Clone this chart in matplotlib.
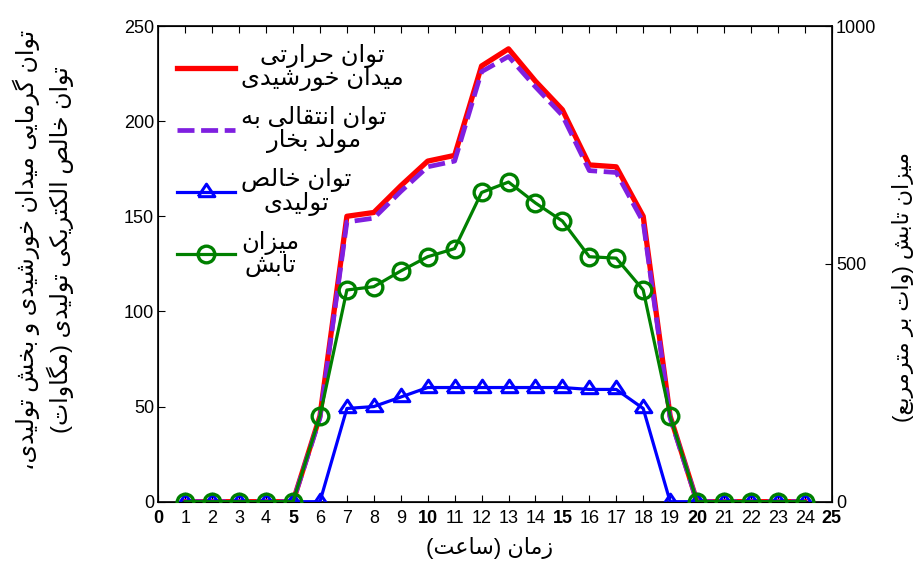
import matplotlib
matplotlib.use("Agg")
import matplotlib.pyplot as plt

plt.rcParams['font.family'] = ['Liberation Sans', 'DejaVu Sans']

# hourly data
hours = list(range(1, 25))
thermal = [0, 0, 0, 0, 0, 45, 150, 152, 166, 179, 182, 229, 238, 221, 206, 177, 176, 150, 45, 0, 0, 0, 0, 0]
steam = [0, 0, 0, 0, 0, 44, 147, 149, 163, 176, 179, 226, 234, 218, 203, 174, 173, 147, 44, 0, 0, 0, 0, 0]
net = [0, 0, 0, 0, 0, 0, 49, 50, 55, 60, 60, 60, 60, 60, 60, 59, 59, 49, 0, 0, 0, 0, 0, 0]
radiation = [0, 0, 0, 0, 0, 180, 445, 452, 485, 515, 532, 650, 672, 628, 590, 515, 512, 445, 180, 0, 0, 0, 0, 0]

labels = ["توان حرارتی\nمیدان خورشیدی", "توان انتقالی به\nمولد بخار",
          "توان خالص\nتولیدی", "میزان\nتابش"]
ylabel_left = "توان گرمایی میدان خورشیدی و بخش تولیدی،\nتوان خالص الکتریکی تولیدی (مگاوات)"
ylabel_right = "میزان تابش (وات بر مترمربع)"
xlabel = "زمان (ساعت)"

# matplotlib has no arabic shaping, so pick presentation forms by hand
# (isolated, final, initial, medial)
FORMS = {
    'ا': (0xFE8D, 0xFE8E, None, None), 'ب': (0xFE8F, 0xFE90, 0xFE91, 0xFE92),
    'ت': (0xFE95, 0xFE96, 0xFE97, 0xFE98), 'ح': (0xFEA1, 0xFEA2, 0xFEA3, 0xFEA4),
    'خ': (0xFEA5, 0xFEA6, 0xFEA7, 0xFEA8), 'د': (0xFEA9, 0xFEAA, None, None),
    'ر': (0xFEAD, 0xFEAE, None, None), 'ز': (0xFEAF, 0xFEB0, None, None),
    'س': (0xFEB1, 0xFEB2, 0xFEB3, 0xFEB4), 'ش': (0xFEB5, 0xFEB6, 0xFEB7, 0xFEB8),
    'ص': (0xFEB9, 0xFEBA, 0xFEBB, 0xFEBC), 'ع': (0xFEC9, 0xFECA, 0xFECB, 0xFECC),
    'ق': (0xFED5, 0xFED6, 0xFED7, 0xFED8), 'ل': (0xFEDD, 0xFEDE, 0xFEDF, 0xFEE0),
    'م': (0xFEE1, 0xFEE2, 0xFEE3, 0xFEE4), 'ن': (0xFEE5, 0xFEE6, 0xFEE7, 0xFEE8),
    'ه': (0xFEE9, 0xFEEA, 0xFEEB, 0xFEEC), 'و': (0xFEED, 0xFEEE, None, None),
    'ی': (0xFBFC, 0xFBFD, 0xFBFE, 0xFBFF), 'ک': (0xFB8E, 0xFB8F, 0xFB90, 0xFB91),
    'گ': (0xFB92, 0xFB93, 0xFB94, 0xFB95),
}


def shape_line(s):
    out = []
    for i, c in enumerate(s):
        if c not in FORMS:
            out.append(c)
            continue
        f = FORMS[c]
        prev = s[i - 1] if i > 0 else ''
        nxt = s[i + 1] if i < len(s) - 1 else ''
        jp = prev in FORMS and FORMS[prev][2] is not None
        jn = f[2] is not None and nxt in FORMS
        if jp and jn:
            g = f[3]
        elif jp:
            g = f[1]
        elif jn:
            g = f[2]
        else:
            g = f[0]
        out.append(chr(g))
    vis = ''.join(out)[::-1]
    return vis.translate(str.maketrans('()', ')('))


def fa(s):
    return '\n'.join(shape_line(l) for l in s.split('\n'))


fig = plt.figure(figsize=(9.21, 5.63), dpi=100)
ax = fig.add_axes([0.1719, 0.1089, 0.7312, 0.8449])

l1, = ax.plot(hours, thermal, color='#ff0000', lw=3.8, zorder=2)
l2, = ax.plot(hours, steam, color='#7f1fe0', lw=3.4, ls=(0, (3.6, 1.4)), zorder=3)
tri = [(-1, -0.5), (1, -0.5), (0, 1), (-1, -0.5)]
l3, = ax.plot(hours, net, color='#0000ff', lw=2.3, marker=tri, ms=12,
              mfc='none', mew=2.2, zorder=4)

ax.set_xlim(0, 25)
ax.set_ylim(0, 250)
ax.set_xticks(range(26))
ax.set_xticklabels([str(i) for i in range(26)])
ax.set_yticks(range(0, 251, 50))
ax.tick_params(direction='in', top=True, right=True, length=5, width=0.8,
               labelsize=13, pad=3)
ax.tick_params(axis='x', pad=6)
for t in ax.get_xticklabels():
    if int(t.get_text()) % 5 == 0:
        t.set_fontweight('bold')
for s in ax.spines.values():
    s.set_linewidth(1.2)

ax2 = ax.twinx()
l4, = ax2.plot(hours, radiation, color='#008000', lw=2.3, marker='o', ms=12,
               mfc='none', mew=2.4, zorder=5)
ax2.set_ylim(0, 1000)
ax2.set_yticks([0, 500, 1000])
ax2.tick_params(direction='in', length=5, width=0.8, labelsize=13, pad=3)

leg = ax2.legend([l1, l2, l3, l4], [fa(t) for t in labels], loc='upper left',
                 bbox_to_anchor=(0.027, 0.962), frameon=False, fontsize=17.5,
                 handlelength=2.4, handletextpad=0.25, labelspacing=0.62,
                 borderpad=0, borderaxespad=0)
for t in leg.get_texts():
    t.set_multialignment('center')
    t.set_linespacing(0.95)

fig.text(0.047, 0.556, fa(ylabel_left), rotation=90, ha='center', va='center',
         fontsize=17, multialignment='center', linespacing=1.3)
fig.text(0.980, 0.49, fa(ylabel_right), rotation=90, ha='center', va='center',
         fontsize=16)
fig.text(0.532, 0.027, fa(xlabel), ha='center', va='center', fontsize=16)

fig.savefig('out.png', dpi=100)
